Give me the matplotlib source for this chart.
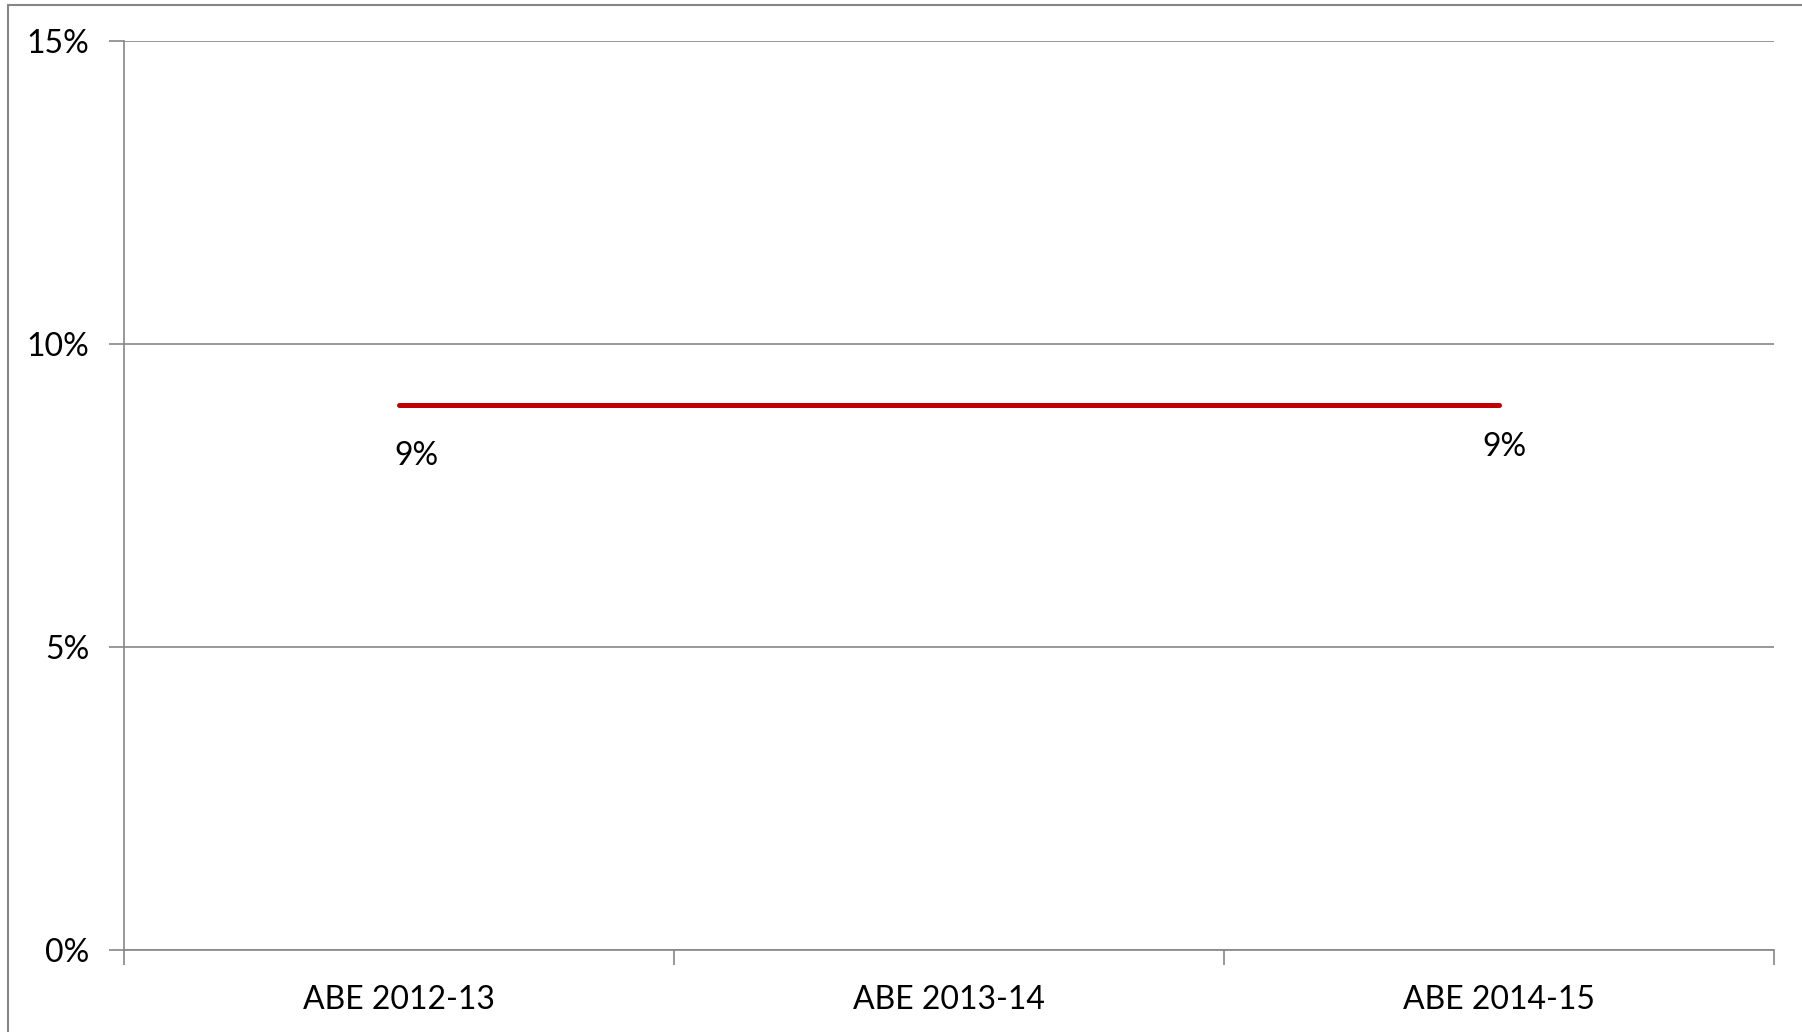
import matplotlib
matplotlib.use('Agg')
import matplotlib.pyplot as plt
from matplotlib.patches import Rectangle
from matplotlib.ticker import FuncFormatter

categories = ['ABE 2012-13', 'ABE 2013-14', 'ABE 2014-15']
values = [9, 9, 9]  # percent
label_idx = [0, 2]
label_offsets = [(17, -51), (5, -42)]  # pixels, hand-placed like the original
yticks = [0, 5, 10, 15]

W, H = 1802, 1032
plt.rcParams['font.family'] = ['Lato', 'DejaVu Sans']

fig = plt.figure(figsize=(W / 100, H / 100), dpi=100)
ax = fig.add_axes([124 / W, (H - 950) / H, 1650 / W, 909 / H])

grey = '#868686'
fs = 23
x = list(range(len(categories)))
ax.plot(x, values, color='#C00000', lw=3.6, solid_capstyle='round', zorder=3)
for i, (dx, dy) in zip(label_idx, label_offsets):
    ax.annotate(f'{values[i]:g}%', (x[i], values[i]), xytext=(dx, dy),
                textcoords='offset pixels', ha='center', va='center',
                fontsize=fs, color='black')

ax.set_xlim(-0.5, len(categories) - 0.5)
ax.set_ylim(0, 15)
ax.set_yticks(yticks)
ax.yaxis.set_major_formatter(FuncFormatter(lambda v, p: f'{v:g}%'))
ax.yaxis.grid(True, color=grey, lw=1.2)
ax.set_axisbelow(True)

ax.set_xticks(x)
ax.set_xticklabels(categories)
ax.set_xticks([i - 0.5 for i in range(len(categories) + 1)], minor=True)
ax.tick_params(axis='x', which='major', length=0, pad=25, labelsize=fs)
ax.tick_params(axis='x', which='minor', length=11, width=1.2, color=grey, direction='out')
ax.tick_params(axis='y', length=11, width=1.2, color=grey, pad=14, labelsize=fs)

for s in ['top', 'right']:
    ax.spines[s].set_visible(False)
for s in ['left', 'bottom']:
    ax.spines[s].set_color(grey)
    ax.spines[s].set_linewidth(1.2)

# outer chart frame, runs off the right and bottom edges
fig.patches.append(Rectangle((8 / W, -0.05), 1.1, 1 - 5 / H + 0.05,
                             transform=fig.transFigure, fill=False,
                             edgecolor=grey, lw=1.5))

fig.savefig('out.png', dpi=100)
